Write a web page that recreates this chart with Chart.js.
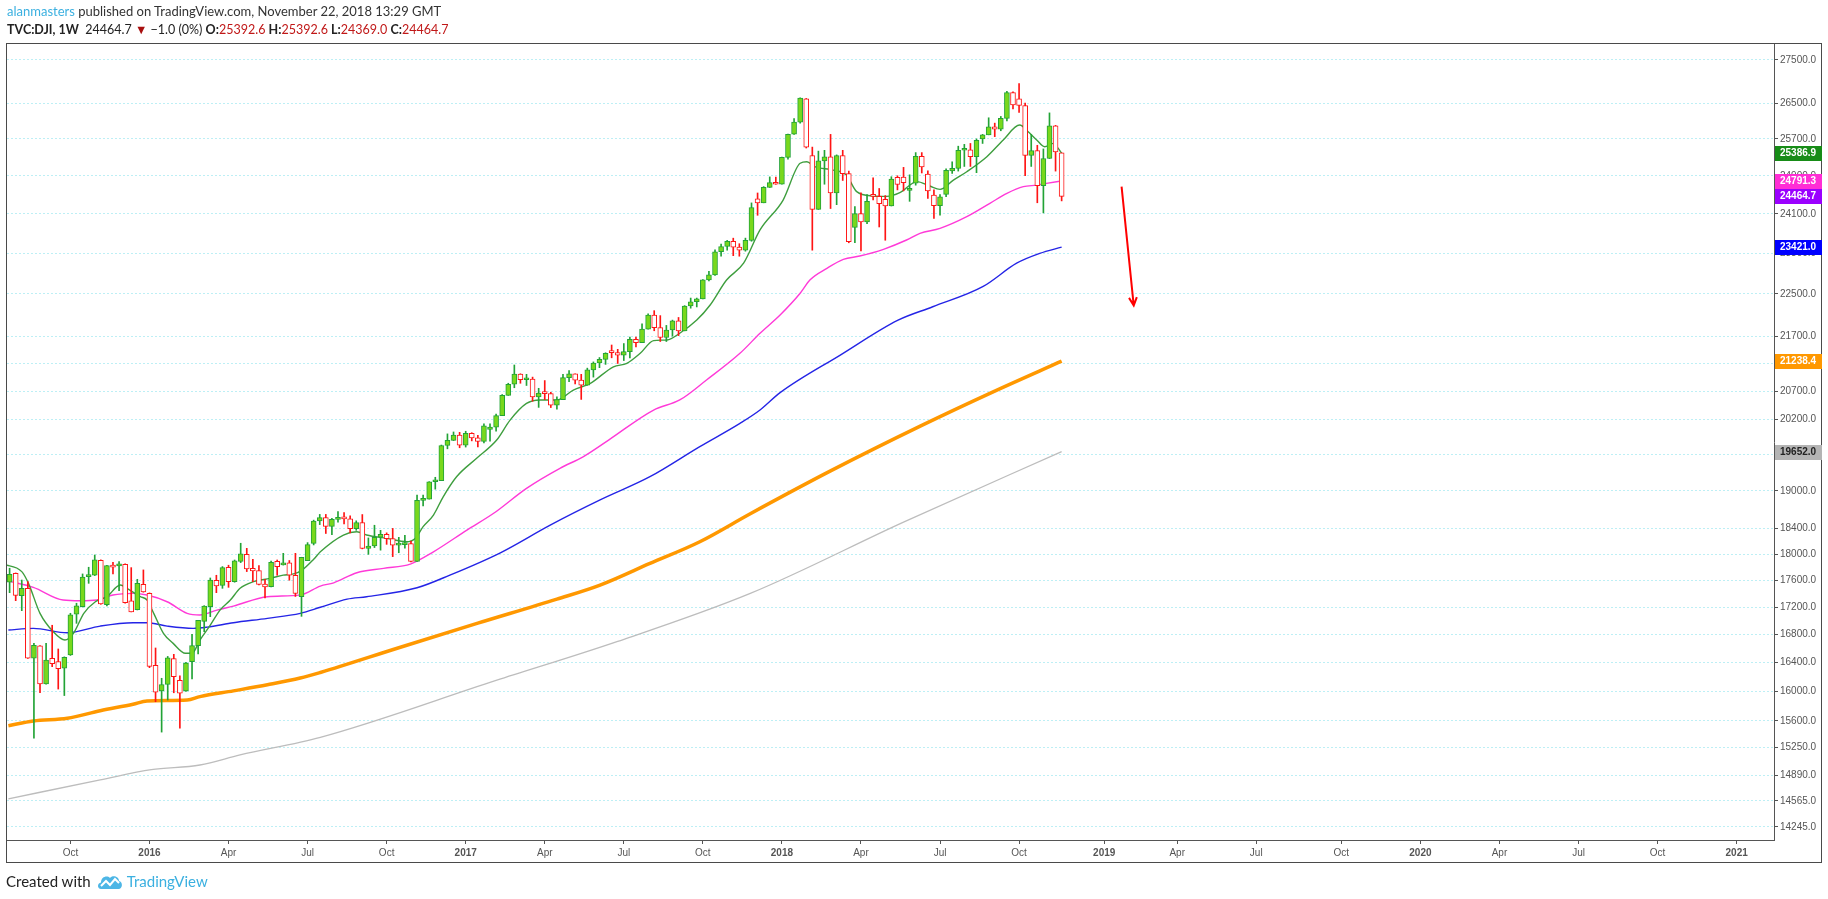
<!DOCTYPE html>
<html>
<head>
<meta charset="utf-8">
<title>TVC:DJI, 1W</title>
<script src="https://cdn.jsdelivr.net/npm/chart.js@4.4.1/dist/chart.umd.min.js"></script>
<style>
  html, body { margin: 0; padding: 0; background: #fff; }
  body { width: 1828px; height: 899px; position: relative; overflow: hidden; font-family: Lato, "Liberation Sans", sans-serif; color: #222; }
  #chart { position: absolute; left: 0; top: 0; }
  .line1 { position: absolute; left: 7px; top: 3px; font-size: 13px; white-space: nowrap; color: #333; }
  .line2 { position: absolute; left: 7px; top: 22px; font-size: 12.5px; white-space: nowrap; color: #222; }
  .line2 b { font-weight: bold; }
  .blue { color: #3bb0e0; }
  .red { color: #c01818; }
  .footer { position: absolute; left: 6px; top: 872px; font-size: 15px; white-space: nowrap; color: #222; }
  .footer svg { vertical-align: -3px; margin: 0 4px 0 6px; }
</style>
</head>
<body>
<canvas id="chart" width="1828" height="899"></canvas>
<div class="line1"><span class="blue">alanmasters</span> published on TradingView.com, November 22, 2018 13:29 GMT</div>
<div class="line2"><b>TVC:DJI, 1W</b>&nbsp; 24464.7 <span style="color:#a80f0f">▼</span> −1.0 (0%) <b>O:</b><span class="red">25392.6</span> <b>H:</b><span class="red">25392.6</span> <b>L:</b><span class="red">24369.0</span> <b>C:</b><span class="red">24464.7</span></div>
<div class="footer">Created with<svg width="26" height="16" viewBox="0 0 26 16"><path d="M4 15 C0 15 0 9 4 8.5 C4 3 10 1 13 4 C15 1 22 2 22 7 C26 7.5 26 15 21.5 15 Z" fill="#4db6e6"/><path d="M4 12 L9 7 L13 11 L18 5 L22 9" stroke="#fff" stroke-width="2" fill="none"/></svg><span class="blue">TradingView</span></div>

<script>
// --- WEEKLY CANDLES, TVC:DJI (first bar = week of 27 Jul 2015, last = 19 Nov 2018) ---
const firstWeek = "2015-07-27";

const opens = [
  17569, 17706, 17368, 17478, 16460, 16635, 16102, 16460, 16412, 16320,
  16506, 17093, 17206, 17654, 17675, 17904, 17235, 17821, 17817, 17843,
  17290, 17161, 17538, 17404, 16362, 16007, 16096, 16455, 16152, 16007,
  16412, 16639, 16990, 17206, 17599, 17523, 17797, 17578, 17888, 17995,
  17782, 17746, 17543, 17502, 17888, 17832, 17865, 17675, 17353, 17898,
  18166, 18517, 18571, 18432, 18544, 18576, 18552, 18395, 18492, 18085,
  18124, 18261, 18308, 18240, 18138, 18146, 18161, 17888, 18848, 18868,
  19152, 19170, 19757, 19843, 19934, 19763, 19964, 19886, 19827, 20030,
  20071, 20269, 20624, 20822, 21006, 20903, 20915, 20597, 20663, 20656,
  20453, 20548, 20941, 21007, 20897, 20805, 21080, 21206, 21272, 21420,
  21395, 21350, 21414, 21638, 21580, 21830, 22093, 21858, 21675, 21814,
  21988, 21798, 22268, 22350, 22405, 22774, 22872, 23329, 23434, 23539,
  23422, 23358, 23558, 24410, 24329, 24652, 24754, 24719, 25296, 25803,
  26072, 26597, 25337, 24191, 25219, 25310, 24538, 25336, 24947, 23820,
  24103, 23933, 24500, 24463, 24400, 24263, 24866, 24870, 24590, 24740,
  25317, 24935, 24490, 24271, 24505, 25005, 25058, 25451, 25463, 25313,
  25700, 25790, 25965, 25917, 26155, 26744, 26598, 26447, 25340, 25444,
  24688, 25271, 25989, 25392.6
];
const highs = [
  17782, 17710, 17603, 17578, 16674, 16640, 16674, 16933, 16592, 16480,
  17108, 17256, 17695, 17797, 17985, 17910, 17828, 17873, 17882, 17850,
  17791, 17614, 17756, 17410, 16606, 16180, 16486, 16516, 16213, 16403,
  16803, 17006, 17220, 17634, 17675, 17807, 17828, 17908, 18167, 18088,
  17919, 17821, 17614, 17893, 17908, 18011, 17900, 18011, 17950, 18177,
  18531, 18622, 18622, 18560, 18668, 18650, 18600, 18520, 18620, 18250,
  18450, 18370, 18330, 18400, 18260, 18290, 18200, 18935, 18934, 19153,
  19225, 19764, 19954, 19987, 19981, 19999, 19974, 19930, 20125, 20125,
  20298, 20639, 20840, 21169, 21010, 21000, 20950, 20750, 20888, 20680,
  20600, 21000, 21070, 21010, 21000, 21112, 21225, 21305, 21392, 21535,
  21455, 21562, 21682, 21681, 21929, 22118, 22179, 22085, 21900, 22000,
  22050, 22275, 22420, 22420, 22780, 22940, 23368, 23485, 23557, 23602,
  23490, 23603, 24327, 24535, 24669, 24876, 24872, 25300, 25804, 26153,
  26620, 26608, 25520, 25432, 25450, 25800, 25350, 25449, 25000, 24250,
  24540, 24500, 24858, 24630, 24480, 24880, 24900, 25080, 24920, 25400,
  25400, 25005, 24600, 24500, 25050, 25200, 25540, 25580, 25600, 25700,
  25800, 26170, 26050, 26200, 26770, 26760, 26952, 26500, 25800, 25560,
  25480, 26280, 26000, 25392.6
];
const lows = [
  17413, 17294, 17146, 16459, 15370, 15980, 16100, 16342, 16031, 15942,
  16500, 16961, 17200, 17553, 17670, 17240, 17216, 17695, 17443, 17256,
  17128, 17157, 17420, 16328, 15858, 15450, 15881, 15980, 15503, 16000,
  16170, 16520, 16840, 17058, 17413, 17478, 17493, 17570, 17868, 17731,
  17578, 17528, 17334, 17500, 17675, 17830, 17600, 17356, 17063, 17898,
  18141, 18460, 18320, 18300, 18500, 18470, 18330, 18370, 18080, 17995,
  18100, 18060, 18150, 17960, 18020, 18090, 17880, 17885, 18760, 18868,
  19030, 19170, 19700, 19840, 19718, 19730, 19835, 19732, 19800, 19831,
  20000, 20269, 20624, 20760, 20840, 20800, 20520, 20413, 20550, 20410,
  20380, 20548, 20870, 20830, 20553, 20805, 20950, 21120, 21180, 21300,
  21197, 21250, 21300, 21500, 21580, 21830, 21800, 21600, 21600, 21700,
  21709, 21798, 22226, 22250, 22405, 22750, 22860, 23240, 23360, 23250,
  23240, 23340, 23540, 24070, 24329, 24652, 24718, 24719, 25255, 25800,
  26050, 25500, 23360, 24191, 24720, 24210, 24290, 24800, 23509, 23510,
  23344, 23900, 24387, 23830, 23560, 24263, 24600, 24580, 24360, 24700,
  24960, 24420, 24005, 24070, 24456, 24950, 25000, 25100, 25100, 24966,
  25600, 25790, 25750, 25880, 26100, 26370, 26290, 24900, 25100, 24330,
  24120, 25270, 25000, 24369.0
];
const closes = [
  17690, 17373, 17477, 16460, 16643, 16102, 16433, 16384, 16314, 16472,
  17084, 17216, 17647, 17663, 17910, 17245, 17823, 17798, 17847, 17265,
  17128, 17552, 17425, 16346, 15988, 16094, 16466, 16204, 15973, 16391,
  16639, 17006, 17213, 17602, 17515, 17792, 17577, 17897, 18003, 17773,
  17740, 17535, 17500, 17873, 17807, 17865, 17675, 17400, 17949, 18146,
  18516, 18571, 18432, 18544, 18576, 18552, 18395, 18492, 18085, 18124,
  18261, 18308, 18240, 18138, 18146, 18161, 17888, 18848, 18868, 19152,
  19170, 19757, 19843, 19934, 19763, 19964, 19886, 19827, 20094, 20071,
  20269, 20624, 20822, 21006, 20903, 20915, 20597, 20663, 20656, 20453,
  20548, 20941, 21007, 20897, 20805, 21080, 21206, 21272, 21384, 21395,
  21350, 21414, 21638, 21580, 21830, 22093, 21858, 21675, 21814, 21988,
  21798, 22268, 22350, 22405, 22774, 22872, 23329, 23434, 23539, 23422,
  23358, 23558, 24232, 24329, 24652, 24754, 24719, 25296, 25803, 26072,
  26617, 25521, 24191, 25219, 25310, 24538, 25336, 24947, 23533, 24103,
  23933, 24360, 24463, 24311, 24263, 24831, 24715, 24753, 24635, 25317,
  25090, 24581, 24271, 24456, 25019, 25058, 25451, 25463, 25313, 25669,
  25790, 25965, 25917, 26155, 26744, 26458, 26447, 25340, 25444, 24688,
  25271, 25989, 25413, 24464.7
];

// --- MOVING AVERAGES (position = weeks after first bar) ---
const greenWeeks = [-1.0, 2.0, 3.1, 5.0, 7.2, 9.1, 10.5, 12.2, 14.1, 16.0, 18.2, 19.3, 21.5, 22.6, 23.7, 25.3, 26.9, 28.9, 30.0, 31.3,
  33.0, 34.6, 36.3, 37.9, 40.1, 42.8, 45.0, 46.7, 48.1, 50.0, 51.1, 54.9, 57.1, 58.7, 62.0, 65.3, 66.7, 68.0, 69.7, 71.3,
  73.5, 76.8, 80.1, 82.3, 85.0, 87.2, 90.0, 92.7, 95.5, 99.3, 101.5, 103.7, 105.9, 108.1, 110.2, 113.0, 115.2, 117.9, 120.7, 123.4,
  127.2, 130.0, 131.1, 132.4, 135.4, 137.6, 139.3, 142.0, 144.2, 146.4, 149.2, 151.3, 153.0, 155.2, 157.4, 160.7, 163.4, 166.1, 167.5, 168.9,
  170.2, 171.6, 173.0];
const greenValues = [17842, 17730, 17553, 17107, 16838, 16720, 16816, 17107, 17278, 17353, 17527, 17478, 17353, 17303, 17107, 16816, 16672, 16531, 16531, 16720,
  16935, 17155, 17303, 17478, 17578, 17628, 17677, 17695, 17754, 17919, 18034, 18296, 18348, 18296, 18243, 18191, 18243, 18428, 18612, 18906,
  19234, 19541, 19849, 20191, 20482, 20543, 20543, 20719, 20838, 21137, 21199, 21382, 21616, 21629, 21753, 22000, 22287, 22770, 23100, 23769,
  24387, 25168, 25201, 25094, 25022, 24915, 24563, 24472, 24463, 24541, 24775, 24682, 24612, 24808, 24987, 25311, 25677, 26007, 25858, 25677,
  25528, 25602, 25387];

const magentaWeeks = [-0.2, 3.9, 8.8, 11.6, 14.4, 17.0, 20.3, 22.6, 25.9, 29.2, 31.3, 34.1, 36.8, 42.4, 47.8, 51.1, 53.3, 57.1, 61.5, 65.9,
  69.7, 75.2, 79.6, 85.0, 90.5, 94.3, 98.5, 105.9, 110.2, 114.6, 120.1, 123.4, 126.7, 130.0, 131.6, 134.4, 137.1, 139.8, 143.7, 147.5,
  149.7, 153.0, 157.4, 161.2, 164.0, 166.7, 168.9, 170.5, 173.0];
const magentaValues = [17587, 17492, 17303, 17293, 17303, 17378, 17402, 17378, 17278, 17107, 17083, 17155, 17214, 17353, 17380, 17512, 17561, 17713, 17780, 17846,
  18034, 18373, 18640, 19044, 19374, 19566, 19849, 20367, 20543, 20898, 21382, 21753, 22096, 22512, 22770, 22999, 23177, 23243, 23378, 23565,
  23700, 23801, 24041, 24318, 24527, 24668, 24702, 24739, 24791];

const blueWeeks = [-0.2, 3.9, 9.5, 14.9, 20.3, 22.6, 25.9, 30.2, 32.5, 36.8, 42.4, 47.8, 51.1, 55.5, 58.7, 67.0, 72.4, 80.7, 88.9, 97.1,
  105.3, 113.5, 120.1, 123.4, 126.7, 136.6, 146.1, 151.8, 160.1, 165.6, 169.4, 173.0];
const blueValues = [16864, 16888, 16824, 16921, 16970, 16970, 16921, 16888, 16906, 16970, 17034, 17107, 17196, 17317, 17353, 17486, 17677, 18019, 18452, 18855,
  19234, 19737, 20135, 20367, 20672, 21350, 22000, 22254, 22645, 23100, 23295, 23421];

const orangeWeeks = [-0.2, 3.9, 9.5, 14.9, 20.3, 22.6, 29.2, 31.3, 36.8, 42.4, 47.8, 51.1, 64.0, 77.0, 90.0, 97.1, 105.3, 113.5, 121.8, 135.0,
  150.0, 162.0, 173.0];
const orangeValues = [15535, 15598, 15634, 15736, 15823, 15868, 15881, 15927, 16006, 16090, 16183, 16261, 16610, 16963, 17317, 17527, 17856, 18191, 18633, 19330,
  20100, 20700, 21238];

const grayWeeks = [-0.2, 14.9, 23.3, 31.3, 37.9, 51.1, 80.0, 100.0, 121.8, 147.0, 173.0];
const grayValues = [14590, 14830, 14960, 15020, 15150, 15380, 16150, 16700, 17402, 18500, 19652];

// --- AXES ---
const yTicks = [14245, 14565, 14890, 15250, 15600, 16000, 16400, 16800, 17200, 17600, 18000, 18400, 19000,
  19600, 20200, 20700, 21200, 21700, 22500, 23300, 24100, 24900, 25700, 26500, 27500];
const monthNames = ["Jan", "Feb", "Mar", "Apr", "May", "Jun", "Jul", "Aug", "Sep", "Oct", "Nov", "Dec"];

// last-value tags on the price axis
const tagValues = [25386.9, 24791.3, 24464.7, 23421.0, 21238.4, 19652.0];
const tagColors = ["#178c17", "#ff2ed5", "#9b00ff", "#0000ff", "#ff9800", "#b4b4b4"];
const tagText = ["#fff", "#fff", "#fff", "#fff", "#fff", "#222"];

// hand-drawn arrow (date, price)
const arrowFrom = ["2019-01-27", 24670];
const arrowTo = ["2019-02-10", 22277];

// --- HELPERS ---
const DAY = 86400000;
const origin = Date.UTC(2016, 0, 4);
function dayOf(s) {
  const p = s.split("-").map(Number);
  return (Date.UTC(p[0], p[1] - 1, p[2]) - origin) / DAY;
}
const firstDay = dayOf(firstWeek);
const weekX = w => firstDay + 7 * w;
const viewFrom = dayOf("2015-07-24");
const viewTo = dayOf("2021-02-16");

// first weekly bar of Jan / Apr / Jul / Oct
const xTicks = [];
for (let y = 2015; y <= 2021; y++) {
  for (const m of [0, 3, 6, 9]) {
    const d = new Date(Date.UTC(y, m, 1));
    while (d.getUTCDay() !== 1) d.setUTCDate(d.getUTCDate() + 1);
    const day = (d.getTime() - origin) / DAY;
    if (day > viewFrom && day < viewTo) xTicks.push({ day, label: m === 0 ? String(y) : monthNames[m], year: m === 0 });
  }
}
const tickLabel = v => { const t = xTicks.find(t => Math.abs(t.day - v) < 0.01); return t ? t.label : ""; };
const tickIsYear = v => { const t = xTicks.find(t => Math.abs(t.day - v) < 0.01); return t ? t.year : false; };

const UP_FILL = "#78d81c", UP_LINE = "#22a336", DOWN_LINE = "#ff1414", DOWN_FILL = "#ffffff";
const isUp = i => closes[i] >= opens[i];

const wickData = opens.map((o, i) => ({ x: weekX(i), y: [lows[i], highs[i]] }));
const bodyData = opens.map((o, i) => ({ x: weekX(i), y: [o, closes[i]] }));
const maLine = (weeks, values) => weeks.map((w, i) => ({ x: weekX(w), y: values[i] }));

// --- PLUGINS ---
const framePlugin = {
  id: "frame",
  afterDraw(chart) {
    const c = chart.ctx, a = chart.chartArea;
    c.save();
    c.strokeStyle = "#4a4a4a";
    c.lineWidth = 1;
    c.strokeRect(a.left - 0.5, a.top - 0.5, chart.width - 7 - a.left + 0.5 + 0.5, chart.height - 37 - a.top + 0.5 + 0.5);
    c.restore();
  }
};

const tagPlugin = {
  id: "tags",
  afterDraw(chart) {
    const c = chart.ctx, ys = chart.scales.y, a = chart.chartArea;
    c.save();
    c.font = "bold 10px 'Liberation Sans', Arial, sans-serif";
    c.textBaseline = "middle";
    tagValues.forEach((v, i) => {
      const y = Math.round(ys.getPixelForValue(v));
      c.fillStyle = tagColors[i];
      c.fillRect(a.right + 1, y - 7, 47, 15);
      c.fillStyle = tagText[i];
      c.fillText(v.toFixed(1), a.right + 6, y + 0.5);
    });
    c.restore();
  }
};

const arrowPlugin = {
  id: "arrow",
  afterDatasetsDraw(chart) {
    const c = chart.ctx, xs = chart.scales.x, ys = chart.scales.y;
    const x1 = xs.getPixelForValue(dayOf(arrowFrom[0])), y1 = ys.getPixelForValue(arrowFrom[1]);
    const x2 = xs.getPixelForValue(dayOf(arrowTo[0])), y2 = ys.getPixelForValue(arrowTo[1]);
    const ang = Math.atan2(y2 - y1, x2 - x1);
    c.save();
    c.strokeStyle = "#ff0000";
    c.lineWidth = 2;
    c.beginPath();
    c.moveTo(x1, y1);
    c.lineTo(x2, y2);
    c.moveTo(x2 - 9 * Math.cos(ang - 0.45), y2 - 9 * Math.sin(ang - 0.45));
    c.lineTo(x2, y2);
    c.lineTo(x2 - 9 * Math.cos(ang + 0.45), y2 - 9 * Math.sin(ang + 0.45));
    c.stroke();
    c.restore();
  }
};

// --- CHART ---
const axisFont = { family: "'Liberation Sans', Arial, sans-serif", size: 10 };
const line = (data, color, width, order) => ({
  type: "line", data, borderColor: color, borderWidth: width, pointRadius: 0,
  cubicInterpolationMode: "monotone", order
});

const ctx = document.getElementById("chart").getContext("2d");
const chart = new Chart(ctx, {
  type: "bar",
  data: {
    datasets: [
      line(maLine(grayWeeks, grayValues), "#bdbdbd", 1.3, 7),
      line(maLine(orangeWeeks, orangeValues), "#ff9800", 3.5, 6),
      line(maLine(blueWeeks, blueValues), "#2424e6", 1.4, 5),
      line(maLine(magentaWeeks, magentaValues), "#ff3ad8", 1.4, 4),
      line(maLine(greenWeeks, greenValues), "#3e9e3e", 1.4, 3),
      {
        type: "bar", data: wickData, grouped: false, barThickness: 1, order: 2,
        backgroundColor: opens.map((o, i) => isUp(i) ? UP_LINE : DOWN_LINE)
      },
      {
        type: "bar", data: bodyData, grouped: false, barThickness: 5, order: 1,
        minBarLength: 2, borderWidth: 1, borderSkipped: false,
        backgroundColor: opens.map((o, i) => isUp(i) ? UP_FILL : DOWN_FILL),
        borderColor: opens.map((o, i) => isUp(i) ? UP_LINE : DOWN_LINE)
      }
    ]
  },
  options: {
    responsive: false,
    devicePixelRatio: 1,
    animation: false,
    layout: { padding: { left: 7, top: 44, right: 7, bottom: 37 } },
    plugins: { legend: { display: false }, tooltip: { enabled: false } },
    scales: {
      x: {
        type: "linear", min: viewFrom, max: viewTo, offset: false,
        grid: { display: true, drawOnChartArea: false, drawTicks: true, tickLength: 4, tickColor: "#555", offset: false },
        border: { display: true, color: "#555", width: 1 },
        ticks: {
          autoSkip: false, maxRotation: 0, padding: 3, color: "#555",
          font: c => ({ ...axisFont, weight: c.tick && tickIsYear(c.tick.value) ? "bold" : "normal" }),
          callback: v => tickLabel(v)
        },
        afterBuildTicks: s => { s.ticks = xTicks.map(t => ({ value: t.day })); },
        afterFit: s => { s.height = 22; }
      },
      y: {
        type: "logarithmic", position: "right", min: 14084, max: 27880,
        grid: { color: "#bdeff5", lineWidth: 1, drawTicks: true, tickLength: 4, tickColor: "#555" },
        border: { display: true, color: "#555", width: 1, dash: [2, 2] },
        ticks: { autoSkip: false, padding: 2, color: "#555", font: axisFont, callback: v => Number(v).toFixed(1) },
        afterBuildTicks: s => { s.ticks = yTicks.map(v => ({ value: v })); },
        afterFit: s => { s.width = 47; }
      }
    }
  },
  plugins: [framePlugin, arrowPlugin, tagPlugin]
});
</script>
</body>
</html>
